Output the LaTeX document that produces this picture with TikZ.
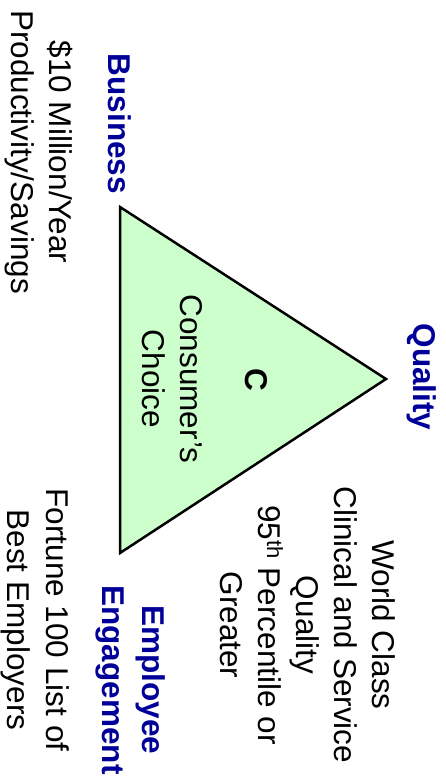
\documentclass[tikz,border=0pt]{standalone}
\usepackage{fontspec}
\setmainfont{Liberation Sans}
\usepackage{tikz}
\usetikzlibrary{positioning}
\definecolor{TitleBlue}{RGB}{0,0,153}
\definecolor{ChoiceGreen}{RGB}{204,255,204}

\begin{document}
\begin{tikzpicture}[
    x=1pt, y=1pt,
    txt/.style={font=\fontsize{31.5}{38}\selectfont, align=center, inner sep=0pt, anchor=base},
    ttl/.style={txt, font=\fontsize{31.5}{40}\selectfont\bfseries, text=TitleBlue}
  ]
  \useasboundingbox (0,0) rectangle (445,-778);
  \begin{scope}[rotate=-90, transform shape]
  % the triangle
  \coordinate (bl) at (207,120);
  \coordinate (tp) at (379,386);
  \coordinate (br) at (553,120);
  \draw[line width=2.5pt, fill=ChoiceGreen, line join=miter] (bl) -- (tp) -- (br) -- cycle;
  \node[txt, font=\fontsize{31.5}{38}\selectfont\bfseries] (c) at (380,245) {C};
  \node[txt] (choice) at (379,142) {Consumer’s\\Choice};
  % corners
  \node[ttl] (business) at (124,108) {Business};
  \node[txt] (savings) at (152,11) {\$10 Million/Year\\Productivity/Savings};
  \node[ttl] (quality) at (377,413) {Quality};
  \node[txt] (worldclass) at (625,220) {World Class\\Clinical and Service\\Quality\\95\textsuperscript{th} Percentile or\\Greater};
  \node[ttl] (employee) at (680,102) {Employee\\Engagement};
  \node[txt] (fortune) at (620,8) {Fortune 100 List of\\Best Employers};
  \end{scope}
\end{tikzpicture}
\end{document}
